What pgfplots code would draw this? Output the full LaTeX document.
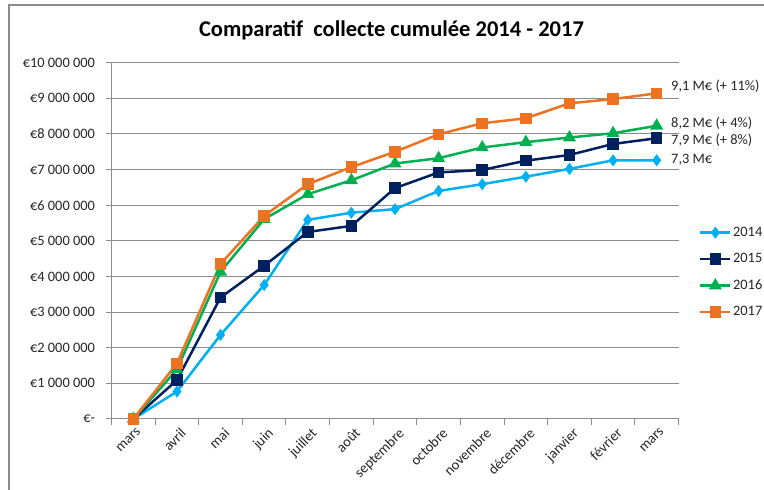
\documentclass[border=0pt]{standalone}
\usepackage{fontspec}
\setmainfont{Carlito}
\usepackage{pgfplots}
\pgfplotsset{compat=1.18}
\definecolor{c14}{HTML}{00B0F0}
\definecolor{c15}{HTML}{002060}
\definecolor{c16}{HTML}{00B050}
\definecolor{c17}{HTML}{ED7322}
\definecolor{axgray}{HTML}{8C8C8C}
\definecolor{txt}{HTML}{262626}
\newcommand\tfont{\fontsize{14.4}{17}\selectfont}
\begin{document}
\begin{tikzpicture}
\useasboundingbox (0pt,0pt) rectangle (764pt,490pt);
\fill[white] (0pt,0pt) rectangle (764pt,490pt);
\draw[axgray, line width=1.5pt] (9pt,-5pt) -- (9pt,485pt) -- (770pt,485pt);
\node[font=\fontsize{22.5}{26}\selectfont\bfseries, text=black] at (391.5pt,460pt) {Comparatif\ \ collecte cumulée 2014 - 2017};
\begin{axis}[
  at={(111.5pt,71pt)}, anchor=south west, scale only axis,
  width=567pt, height=356.3pt,
  xmin=-0.5, xmax=12.5, ymin=0, ymax=10000000,
  axis lines=left, axis line style={-, draw=axgray, line width=1pt},
  ymajorgrids, grid style={axgray, line width=1pt},
  ytick={0,1000000,2000000,3000000,4000000,5000000,6000000,7000000,8000000,9000000,10000000},
  yticklabels={€-, €1 000 000, €2 000 000, €3 000 000, €4 000 000, €5 000 000, €6 000 000, €7 000 000, €8 000 000, €9 000 000, €10 000 000},
  xtick={0,...,12},
  xticklabels={mars, avril, mai, juin, juillet, août, septembre, octobre, novembre, décembre, janvier, février, mars},
  minor xtick={-0.5,0.5,...,12.5},
  tick align=outside, major tick length=6pt, minor tick length=6pt,
  tick style={axgray, line width=1pt},
  every major x tick/.style={draw=none},
  yticklabel style={font=\tfont, text=txt, xshift=-7pt},
  xticklabel style={font=\tfont, text=txt, rotate=45, anchor=north east, xshift=4pt},
  scaled y ticks=false,
  clip=false,
  legend style={at={(1.036,0.543)}, anchor=north west, draw=none, fill=none, font=\tfont, row sep=12.5pt, inner sep=0pt, nodes={inner sep=1.5pt, text=txt}},
  legend cell align=left,
  legend image code/.code={\draw[mark repeat=2, mark phase=2, #1] plot coordinates {(0pt,0pt) (15pt,0pt) (30pt,0pt)};},
]
\addplot[c14, line width=2.5pt, mark=diamond*, mark size=4pt] coordinates {
(0,0) (1,770000) (2,2360000) (3,3760000) (4,5590000) (5,5790000) (6,5890000) (7,6400000) (8,6590000) (9,6800000) (10,7020000) (11,7260000) (12,7260000)};
\addlegendentry{2014}
\addplot[c15, line width=2.5pt, mark=square*, mark size=4.5pt] coordinates {
(0,0) (1,1090000) (2,3410000) (3,4300000) (4,5250000) (5,5420000) (6,6480000) (7,6920000) (8,6990000) (9,7250000) (10,7410000) (11,7720000) (12,7880000)};
\addlegendentry{2015}
\addplot[c16, line width=2.5pt, mark=triangle*, mark size=5pt] coordinates {
(0,0) (1,1390000) (2,4130000) (3,5610000) (4,6310000) (5,6700000) (6,7170000) (7,7320000) (8,7620000) (9,7770000) (10,7900000) (11,8020000) (12,8230000)};
\addlegendentry{2016}
\addplot[c17, line width=2.5pt, mark=square*, mark size=4.5pt] coordinates {
(0,0) (1,1560000) (2,4350000) (3,5700000) (4,6590000) (5,7070000) (6,7500000) (7,7990000) (8,8300000) (9,8440000) (10,8860000) (11,8980000) (12,9140000)};
\addlegendentry{2017}
\end{axis}
\node[anchor=west, font=\tfont, text=txt, inner sep=0pt] at (671pt,403.3pt) {9,1 M€ (+ 11\%)};
\node[anchor=west, font=\tfont, text=txt, inner sep=0pt] at (671pt,366.7pt) {8,2 M€ (+ 4\%)};
\node[anchor=west, font=\tfont, text=txt, inner sep=0pt] at (671pt,350pt) {7,9 M€ (+ 8\%)};
\node[anchor=west, font=\tfont, text=txt, inner sep=0pt] at (671pt,330pt) {7,3 M€};
\end{tikzpicture}
\end{document}
